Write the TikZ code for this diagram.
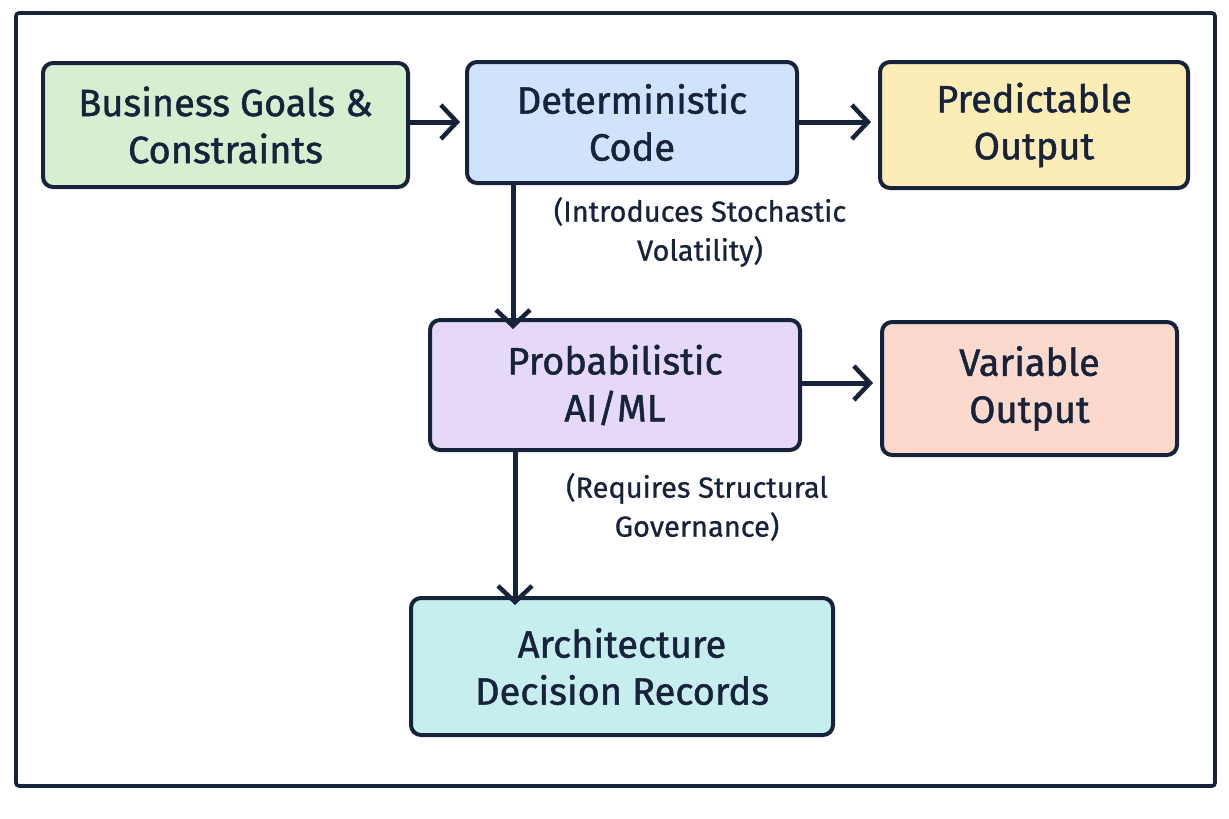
\documentclass[tikz,border=0pt]{standalone}
\usepackage{fontspec}
\setmainfont{Fira Sans}
\newfontfamily\boxfont{Fira Sans}[UprightFeatures={FakeBold=1.2}]
\newfontfamily\notefont{Fira Sans}[UprightFeatures={FakeBold=0.8}]
\usetikzlibrary{arrows.meta}
\definecolor{ink}{HTML}{17223B}
\definecolor{cgreen}{HTML}{D5EFD0}
\definecolor{cblue}{HTML}{CFE4FA}
\definecolor{cyellow}{HTML}{FCEDB6}
\definecolor{cpurple}{HTML}{E6D8F8}
\definecolor{cpink}{HTML}{FBDACD}
\definecolor{cteal}{HTML}{C7EEEE}
\tikzset{
  box/.style={draw=ink, line width=4pt, rounded corners=10pt, inner sep=0pt, align=center,
    text=ink, font=\boxfont\fontsize{38}{47}\selectfont},
  conn/.style={draw=ink, line width=5pt, -{Straight Barb[length=16pt,width=34pt,line width=4.5pt]}},
  note/.style={text=ink, align=center, font=\notefont\fontsize{29}{39}\selectfont},
}
\begin{document}
\begin{tikzpicture}[x=1pt,y=-1pt]
\useasboundingbox (0,0) rectangle (1229,819);
\fill[white] (0,0) rectangle (1229,819);
\draw[ink, line width=3.6pt, rounded corners=3pt] (16,13) rectangle (1215,786);

\node[box, fill=cgreen, minimum width=365pt, minimum height=124pt] (bg) at (225.5,125) {Business Goals \&\\Constraints};
\node[box, fill=cblue, minimum width=330pt, minimum height=121pt] (dc) at (632,122.5) {Deterministic\\Code};
\node[box, fill=cyellow, minimum width=308pt, minimum height=126pt] (po) at (1034,125) {Predictable\\Output};
\node[box, fill=cpurple, minimum width=370pt, minimum height=130pt] (pa) at (615,385) {Probabilistic\\AI/ML};
\node[box, fill=cpink, minimum width=295pt, minimum height=133pt] (vo) at (1029.5,388.5) {Variable\\Output};
\node[box, fill=cteal, minimum width=422pt, minimum height=137pt] (adr) at (622,666.5) {Architecture\\Decision Records};

\node[note] (n1) at (700,232) {(Introduces Stochastic\\Volatility)};
\node[note] (n2) at (697,507) {(Requires Structural\\Governance)};

\draw[conn] (bg.east |- 0,122) -- ([xshift=-5pt]dc.west |- 0,122);
\draw[conn] (dc.east |- 0,122) -- ([xshift=-7pt]po.west |- 0,122);
\draw[conn] (dc.south -| 513,0) -- ([yshift=-11pt]pa.north -| 513,0);
\draw[conn] (pa.east |- 0,383) -- ([xshift=-7pt]vo.west |- 0,383);
\draw[conn] (pa.south -| 515,0) -- ([yshift=-9pt]adr.north -| 515,0);
\end{tikzpicture}
\end{document}
